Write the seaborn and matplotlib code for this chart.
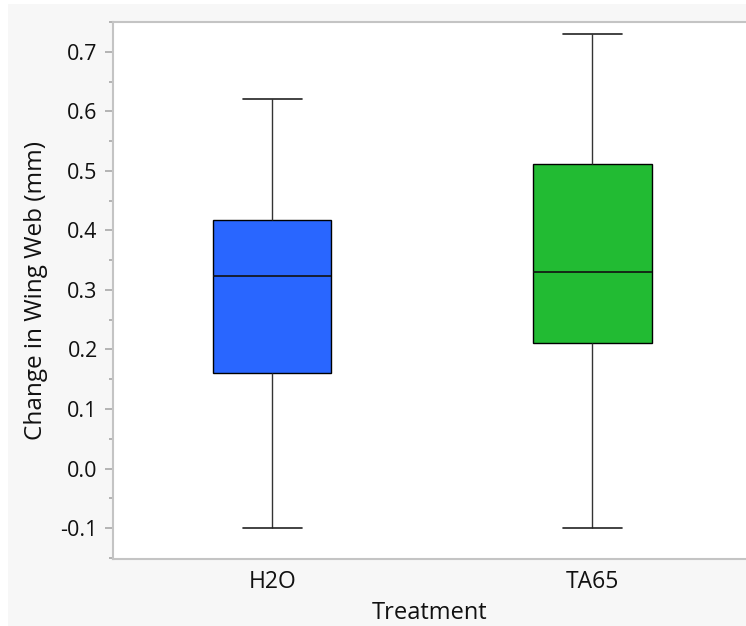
import matplotlib
matplotlib.use("Agg")
import matplotlib.pyplot as plt
import matplotlib.patches as mpatches
from matplotlib.ticker import MultipleLocator
import seaborn as sns
import pandas as pd

# Five-number summaries: min, Q1, median, Q3, max
treatments = ["H2O", "TA65"]
h2o_values = [-0.10, 0.160, 0.323, 0.417, 0.620]
ta65_values = [-0.10, 0.210, 0.330, 0.511, 0.730]
colors = ["#2966FF", "#22BB33"]
y_ticks = [-0.1, 0.0, 0.1, 0.2, 0.3, 0.4, 0.5, 0.6, 0.7]

df = pd.DataFrame({
    "Treatment": ["H2O"] * len(h2o_values) + ["TA65"] * len(ta65_values),
    "Change in Wing Web (mm)": h2o_values + ta65_values,
})

sns.set_theme(style="white")
plt.rcParams["font.family"] = ["Open Sans", "DejaVu Sans"]

fig = plt.figure(figsize=(7.46, 6.26), dpi=100, facecolor="white")
fig.patches.append(mpatches.Rectangle((8 / 746, 0), 1, (626 - 4) / 626,
                                      transform=fig.transFigure,
                                      facecolor="#F7F7F7", edgecolor="none", zorder=-10))
ax = fig.add_axes([113 / 746, (626 - 559) / 626, 1 - 113 / 746, (559 - 22) / 626])
ax.set_facecolor("white")

sns.boxplot(data=df, x="Treatment", y="Change in Wing Web (mm)", hue="Treatment",
            order=treatments, hue_order=treatments, palette=colors, legend=False,
            whis=(0, 100), width=0.37, saturation=1, ax=ax,
            linecolor="black", linewidth=1.0,
            whiskerprops=dict(color="#333333", linewidth=1.0),
            capprops=dict(color="#222222", linewidth=1.2),
            medianprops=dict(color="#111111", linewidth=1.2))

ax.set_xlim(-0.497, 1.48)
ax.set_ylim(-0.152, 0.750)
ax.set_yticks(y_ticks)
ax.set_yticklabels([f"{v:.1f}" for v in y_ticks])
ax.yaxis.set_minor_locator(MultipleLocator(0.05))

for side in ["left", "bottom", "top"]:
    ax.spines[side].set_color("#C4C4C4")
    ax.spines[side].set_linewidth(1.5)
ax.spines["right"].set_visible(False)

ax.tick_params(axis="y", which="major", length=6, width=1.2, color="#A8A8A8",
               labelsize=15.5, labelcolor="#111111", pad=5, left=True)
ax.tick_params(axis="y", which="minor", length=3, width=1.2, color="#A8A8A8", left=True)
ax.tick_params(axis="x", length=0, labelsize=16.5, labelcolor="#111111", pad=8)

ax.set_xlabel("Treatment", fontsize=17, color="#111111", labelpad=5)
ax.set_ylabel("Change in Wing Web (mm)", fontsize=17.5, color="#111111", labelpad=9)

fig.savefig("out.png", dpi=100, facecolor=fig.get_facecolor())
